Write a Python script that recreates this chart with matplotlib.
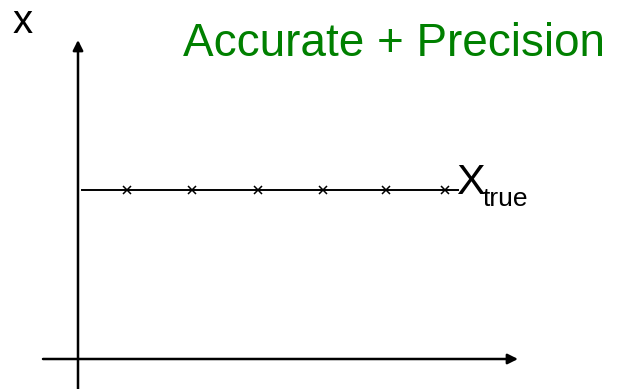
import matplotlib
matplotlib.use('Agg')
import matplotlib.pyplot as plt

# ==========================================================
# Data (drawing units: axes span 0..620 across, 0..389 down)
# ==========================================================
meas_x = [127, 192, 258, 323, 386, 445]   # measurement positions along t
meas_val = [190, 190, 190, 190, 190, 190]  # all measured values = X_true
x_true = 190
title = 'Accurate + Precision'

plt.rcParams['font.family'] = ['Liberation Sans', 'DejaVu Sans']

fig = plt.figure(figsize=(6.2, 3.89), dpi=100)
ax = fig.add_axes([0, 0, 1, 1])
ax.set_xlim(0, 620)
ax.set_ylim(389, 0)
ax.axis('off')

# axes arrows
arrow = dict(arrowstyle='-|>', color='black', lw=1.8, mutation_scale=15,
             shrinkA=0, shrinkB=0)
ax.annotate('', xy=(78, 40), xytext=(78, 389), arrowprops=arrow)
ax.annotate('', xy=(518, 359), xytext=(43, 359), arrowprops=arrow)

# true value line and measurements
ax.plot([82, 458], [x_true, x_true], color='black', lw=1.4)
ax.plot(meas_x, meas_val, linestyle='none', marker='x', color='black',
        markersize=6, markeredgewidth=1.1)

# labels
ax.text(23, 22, 'x', fontsize=29, ha='center', va='center')
ax.text(394, 56, title, fontsize=33, color='#008000', ha='center', va='baseline')
ax.text(456, 194, 'X', fontsize=31, ha='left', va='baseline')
ax.text(483, 206, 'true', fontsize=19, ha='left', va='baseline')

fig.savefig('out.png', dpi=100)
